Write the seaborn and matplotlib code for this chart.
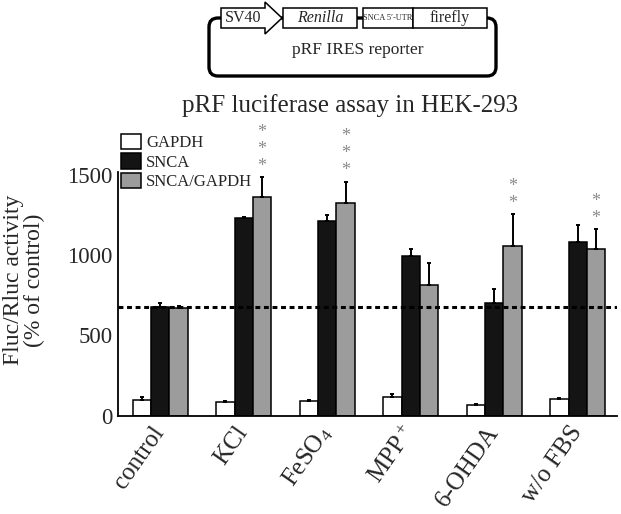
import matplotlib
matplotlib.use("Agg")
import matplotlib.pyplot as plt
from matplotlib.patches import Polygon, Rectangle, FancyBboxPatch
import numpy as np
import pandas as pd
import seaborn as sns

# values (% of control)
categories = ["control", "KCl", "FeSO$_4$", "MPP$^+$", "6-OHDA", "w/o FBS"]
series = ["GAPDH", "SNCA", "SNCA/GAPDH"]
gapdh = [98, 87, 91, 118, 65, 102]
gapdh_err = [20, 4, 4, 17, 10, 10]
snca = [675, 1230, 1213, 997, 702, 1080]
snca_err = [27, 6, 37, 43, 85, 108]
ratio = [673, 1364, 1327, 816, 1057, 1039]
ratio_err = [10, 121, 131, 133, 198, 122]
ratio_stars = [0, 3, 3, 0, 2, 2]
control_level = 675

colors = ["#ffffff", "#141414", "#9c9c9c"]

df = pd.DataFrame({
    "condition": categories * 3,
    "series": np.repeat(series, len(categories)),
    "value": gapdh + snca + ratio,
})
errs = [gapdh_err, snca_err, ratio_err]

sns.set_style("ticks")
plt.rcParams["font.family"] = ["Liberation Serif", "DejaVu Serif"]
plt.rcParams["mathtext.fontset"] = "custom"
plt.rcParams["mathtext.rm"] = "Liberation Serif"
plt.rcParams["mathtext.default"] = "regular"

fig = plt.figure(figsize=(6.21, 5.14), dpi=100)
ax = fig.add_axes([118 / 621, 1 - 415.7 / 514, 499 / 621, 244 / 514])

sns.barplot(data=df, x="condition", y="value", hue="series", hue_order=series,
            palette=colors, width=0.66, errorbar=None, legend=False,
            edgecolor="black", linewidth=1.1, ax=ax)

for cont, err in zip(ax.containers, errs):
    xs = [p.get_x() + p.get_width() / 2 for p in cont.patches]
    ys = [p.get_height() for p in cont.patches]
    ax.errorbar(xs, ys, yerr=[np.zeros(len(err)), err], fmt="none",
                ecolor="black", elinewidth=1.4, capsize=1.5, capthick=1.4, zorder=3)

# significance stars over SNCA/GAPDH bars
ratio_bars = ax.containers[2].patches
for p, n, e in zip(ratio_bars, ratio_stars, ratio_err):
    xc = p.get_x() + p.get_width() / 2
    for k in range(n):
        ax.annotate("*", (xc, p.get_height() + e), xytext=(0, 8 + 12.3 * k),
                    textcoords="offset points", ha="center", va="center",
                    fontsize=13, color="#8a8a8a", annotation_clip=False)

ax.axhline(control_level, color="black", lw=2.2, ls=(0, (1.6, 1.2)), zorder=4)

ax.set_ylim(0, 1520)
ax.set_xlim(-0.505, 5.47)
ax.set_yticks([0, 500, 1000, 1500])
ax.tick_params(axis="y", length=0, pad=4, labelsize=16.5)
ax.tick_params(axis="x", length=0, pad=9, labelsize=18)
for lab in ax.get_xticklabels():
    lab.set_rotation(55)
    lab.set_ha("right")
    lab.set_va("center")
    lab.set_rotation_mode("anchor")
ax.set_xlabel("")
ax.set_ylabel("Fluc/Rluc activity\n(% of control)", fontsize=17, linespacing=1.0)
ax.yaxis.set_label_coords(-0.146, 0.556)
for s in ["top", "right"]:
    ax.spines[s].set_visible(False)
for s in ["left", "bottom"]:
    ax.spines[s].set_linewidth(1.3)
    ax.spines[s].set_color("black")

ax.set_title("pRF luciferase assay in HEK-293", fontsize=18, pad=43, x=0.465)

ax.legend(ax.containers, series, loc="upper left", bbox_to_anchor=(0.006, 1.155),
          frameon=False, fontsize=12, handlelength=1.2, handleheight=1.05,
          handletextpad=0.3, labelspacing=0.12, borderpad=0, borderaxespad=0)

# construct diagram drawn in pixel space
ov = fig.add_axes([0, 0, 1, 1])
ov.set_xlim(0, 621)
ov.set_ylim(514, 0)
ov.axis("off")
ov.add_patch(FancyBboxPatch((209, 18), 287, 58, boxstyle="round,pad=0,rounding_size=9",
                            fc="none", ec="black", lw=2.4, zorder=1))
ov.add_patch(Polygon([(221, 8), (265, 8), (265, 2), (282, 18), (265, 34), (265, 28), (221, 28)],
                     closed=True, fc="white", ec="black", lw=1.1, zorder=2))
ov.text(243, 18.5, "SV40", ha="center", va="center", fontsize=11.5, zorder=3)
ov.add_patch(Rectangle((283, 8), 74, 20, fc="white", ec="black", lw=1.1, zorder=2))
ov.text(320, 18.5, "Renilla", ha="center", va="center", fontsize=11.5, style="italic", zorder=3)
ov.add_patch(Rectangle((363, 8), 50, 20, fc="white", ec="black", lw=1.1, zorder=2))
ov.text(388, 18.5, "SNCA 5\u2032-UTR", ha="center", va="center", fontsize=6, zorder=3)
ov.add_patch(Rectangle((413, 8), 74, 20, fc="white", ec="black", lw=1.1, zorder=2))
ov.text(450, 18.5, "firefly", ha="center", va="center", fontsize=11.5, zorder=3)
ov.text(358, 50, "pRF IRES reporter", ha="center", va="center", fontsize=12.5)

fig.savefig("out.png", dpi=100)
